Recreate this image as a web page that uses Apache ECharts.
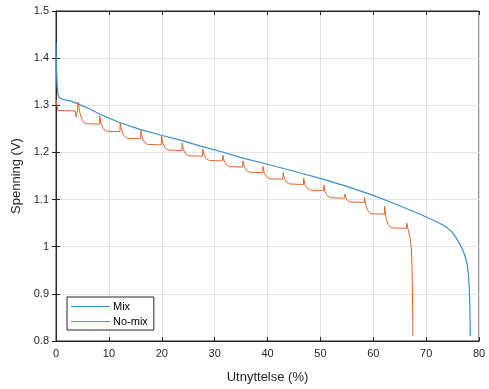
<!DOCTYPE html>
<html lang="en">

<head>
  <script src="https://cdn.jsdelivr.net/npm/echarts@6.0.0/dist/echarts.min.js"></script>
  <meta charset="UTF-8">
</head>

<body style="margin:0;background:#fff;">
  <div id="dischargeChart" style="width: 489px;height:389px;"></div>

  <script type="text/javascript">

    // Mix curve [utnyttelse %, spenning V]
    var mixData = [
      [0, 1.435], [0.05, 1.40], [0.12, 1.37], [0.2, 1.345], [0.35, 1.325], [0.6, 1.316],
      [1.4, 1.312], [2.6, 1.310], [3.9, 1.304], [6.4, 1.292], [8.3, 1.281], [10.2, 1.272],
      [12.1, 1.263], [15.9, 1.249], [19.7, 1.237], [23.5, 1.226], [27.2, 1.214], [31.5, 1.201],
      [35, 1.189], [40, 1.175], [45, 1.160], [50, 1.145], [55, 1.128], [60, 1.109],
      [63, 1.096], [66, 1.082], [68, 1.073], [70, 1.063], [72, 1.053], [73, 1.047],
      [74, 1.040], [74.8, 1.032], [75.5, 1.022], [76, 1.013], [76.4, 1.005], [76.8, 0.996],
      [77.2, 0.985], [77.5, 0.975], [77.8, 0.960], [78.0, 0.940], [78.15, 0.915], [78.25, 0.88],
      [78.3, 0.85], [78.35, 0.81]
    ];

    // No-mix curve with the recovery spikes
    var noMixData = [
      [0, 1.312], [0.15, 1.300], [0.4, 1.289], [3.6, 1.288], [3.8, 1.275], [4.0, 1.285],
      [4.2, 1.307], [4.5, 1.285], [4.9, 1.270], [5.5, 1.261],
      [8.2, 1.260], [8.25, 1.278], [8.5, 1.262], [8.9, 1.251], [9.5, 1.245],
      [12.1, 1.244], [12.15, 1.263], [12.4, 1.247], [12.8, 1.236], [13.4, 1.230],
      [16.0, 1.229], [16.05, 1.247], [16.3, 1.232], [16.7, 1.222], [17.3, 1.217],
      [19.9, 1.216], [19.95, 1.235], [20.2, 1.220], [20.6, 1.210], [21.2, 1.205],
      [23.8, 1.204], [23.85, 1.220], [24.1, 1.206], [24.5, 1.197], [25.1, 1.193],
      [27.7, 1.192], [27.75, 1.207], [28.0, 1.195], [28.4, 1.187], [29.0, 1.183],
      [31.5, 1.182], [31.55, 1.194], [31.8, 1.182], [32.2, 1.174], [32.8, 1.170],
      [35.3, 1.169], [35.35, 1.182], [35.6, 1.170], [36.0, 1.162], [36.6, 1.158],
      [39.1, 1.157], [39.15, 1.170], [39.4, 1.157], [39.8, 1.149], [40.4, 1.144],
      [42.9, 1.143], [42.95, 1.157], [43.2, 1.145], [43.6, 1.137], [44.2, 1.133],
      [46.8, 1.132], [46.85, 1.145], [47.1, 1.131], [47.5, 1.124], [48.1, 1.120],
      [50.6, 1.119], [50.65, 1.131], [50.9, 1.116], [51.3, 1.108], [51.9, 1.104],
      [54.6, 1.103], [54.65, 1.112], [54.8, 1.105], [55.1, 1.098], [55.6, 1.095],
      [58.3, 1.094], [58.35, 1.105], [58.6, 1.088], [59.0, 1.076], [59.6, 1.070],
      [62.1, 1.069], [62.15, 1.086], [62.4, 1.062], [62.8, 1.047], [63.4, 1.040],
      [66.3, 1.039], [66.35, 1.050], [66.6, 1.036], [66.9, 1.022], [67.2, 0.998],
      [67.35, 0.95], [67.45, 0.87], [67.5, 0.81]
    ];

    var seriesNames = ['Mix', 'No-mix'];
    var xTicks = [0, 10, 20, 30, 40, 50, 60, 70, 80];
    var yTicks = ['0.8', '0.9', '1', '1.1', '1.2', '1.3', '1.4', '1.5'];

    var chart = echarts.init(document.getElementById('dischargeChart'));

    var font = 'Liberation Sans, Arial, sans-serif';
    var axisColor = '#262626';
    var labelStyle = { color: axisColor, fontSize: 11, fontFamily: font };

    var option = {
      animation: false,
      backgroundColor: '#fff',
      grid: { left: 56, right: 10, top: 11, bottom: 42, show: true, borderColor: axisColor, borderWidth: 1 },
      legend: {
        data: seriesNames,
        orient: 'vertical',
        left: 67,
        top: 297,
        backgroundColor: '#fff',
        borderColor: axisColor,
        borderWidth: 1,
        padding: [4, 6, 3, 4],
        itemWidth: 39,
        itemHeight: 8,
        itemGap: 4,
        icon: 'path://M0,4L40,4L40,5L0,5Z',
        textStyle: { color: '#000', fontSize: 11, fontFamily: font, padding: [0, 0, 0, -2] }
      },
      xAxis: [{
        type: 'value', min: xTicks[0], max: xTicks[xTicks.length - 1], interval: 10,
        name: 'Utnyttelse (%)', nameLocation: 'middle', nameGap: 30,
        nameTextStyle: { color: axisColor, fontSize: 13, fontFamily: font },
        axisLine: { show: true, lineStyle: { color: axisColor } },
        axisTick: { show: true, inside: true, length: 4, lineStyle: { color: axisColor } },
        axisLabel: { ...labelStyle, margin: 7 },
        splitLine: { show: true, lineStyle: { color: '#e3e3e3' } }
      }, {
        type: 'value', position: 'top', min: xTicks[0], max: xTicks[xTicks.length - 1], interval: 10,
        axisLine: { show: true, lineStyle: { color: axisColor } },
        axisTick: { show: true, inside: true, length: 4, lineStyle: { color: axisColor } },
        axisLabel: { show: false }, splitLine: { show: false }
      }],
      yAxis: [{
        type: 'value', min: 0.8, max: 1.5, interval: 0.1,
        name: 'Spenning (V)', nameLocation: 'middle', nameGap: 30,
        nameTextStyle: { color: axisColor, fontSize: 13, fontFamily: font },
        axisLine: { show: true, lineStyle: { color: axisColor } },
        axisTick: { show: true, inside: true, length: 4, lineStyle: { color: axisColor } },
        axisLabel: {
          ...labelStyle, margin: 7,
          formatter: function (v) { return yTicks[Math.round((v - 0.8) * 10)]; }
        },
        splitLine: { show: true, lineStyle: { color: '#e3e3e3' } }
      }, {
        type: 'value', position: 'right', min: 0.8, max: 1.5, interval: 0.1,
        axisLine: { show: true, lineStyle: { color: axisColor } },
        axisTick: { show: true, inside: true, length: 4, lineStyle: { color: axisColor } },
        axisLabel: { show: false }, splitLine: { show: false }
      }],
      series: [{
        name: seriesNames[0], type: 'line', data: mixData, showSymbol: false,
        lineStyle: { color: '#3a8fcb', width: 1.2 }, itemStyle: { color: '#3a8fcb' }
      }, {
        name: seriesNames[1], type: 'line', data: noMixData, showSymbol: false,
        lineStyle: { color: '#e0662e', width: 1 }, itemStyle: { color: '#e0662e' }
      }]
    };

    chart.setOption(option);
  </script>
</body>

</html>
